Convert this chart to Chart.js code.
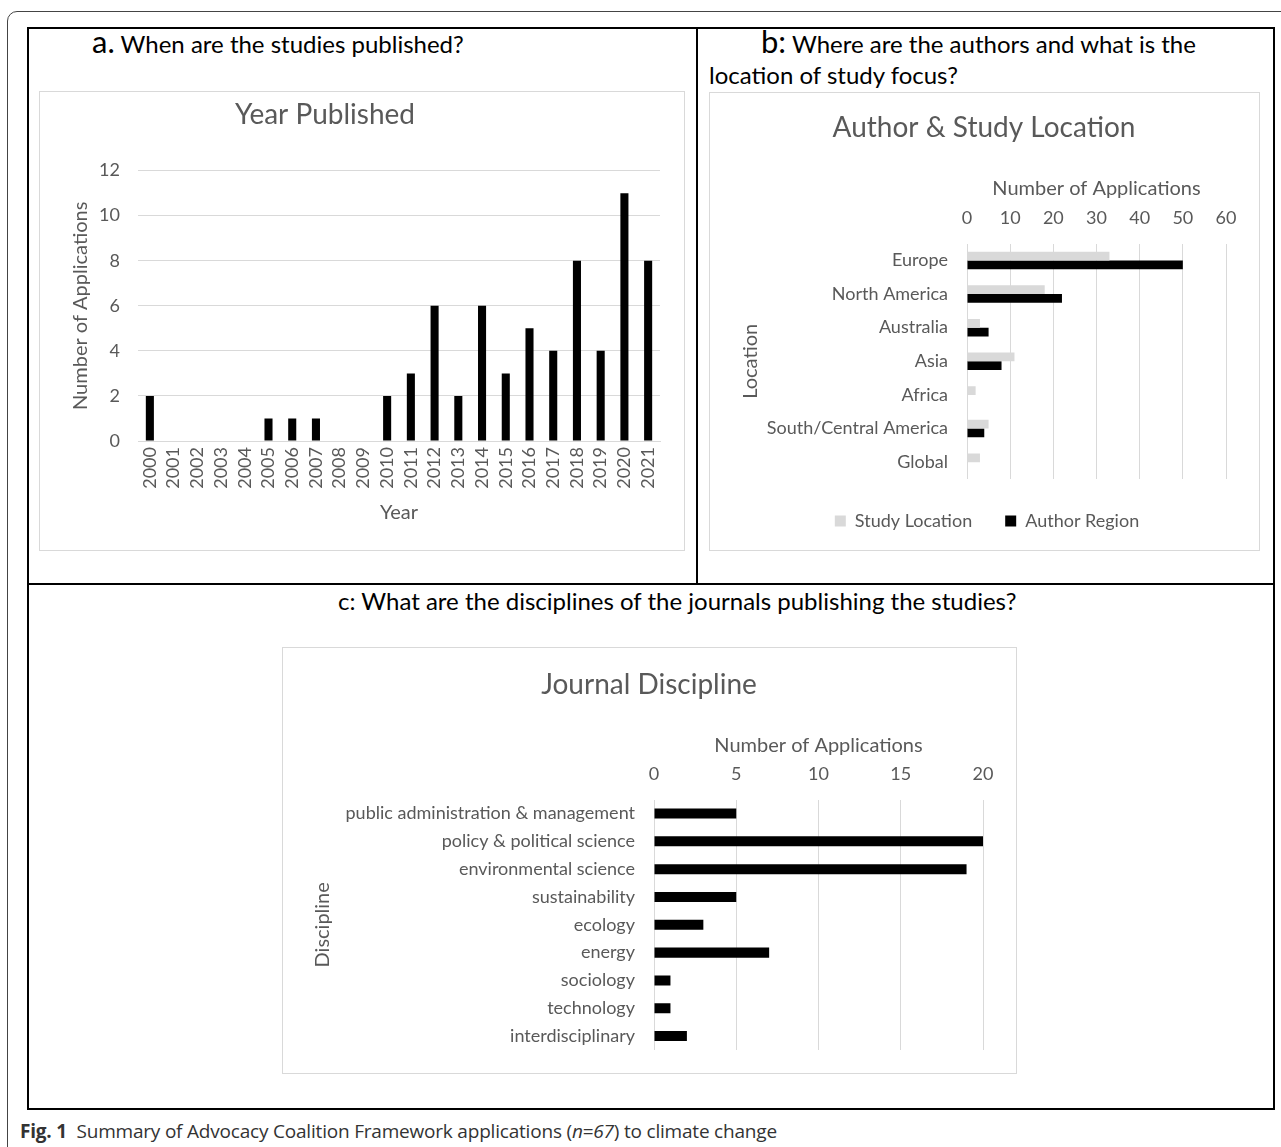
<!DOCTYPE html>
<html>
<head>
<meta charset="utf-8">
<script src="https://cdn.jsdelivr.net/npm/chart.js@4.4.0/dist/chart.umd.min.js"></script>
<style>
  body { margin:0; background:#fff; width:1281px; height:1147px; overflow:hidden; position:relative; font-family:Lato, "Open Sans", sans-serif; }
  .outer { position:absolute; left:7px; top:11px; width:1300px; height:1200px; border:1px solid #444; border-radius:10px; }
  .frame { position:absolute; left:27px; top:27px; width:1244px; height:1079px; border:2px solid #000; }
  .vdiv { position:absolute; left:696px; top:27px; width:2px; height:557px; background:#000; }
  .hdiv { position:absolute; left:27px; top:583px; width:1248px; height:2px; background:#000; }
  .head { position:absolute; font-size:24px; line-height:30px; color:#000; white-space:nowrap; }
  .head .big { font-size:31px; }
  .box { position:absolute; border:1px solid #d9d9d9; background:#fff; }
  .caption { position:absolute; left:20px; top:1118px; font-family:"Liberation Sans Narrow", "Open Sans", sans-serif; font-size:19px; color:#333; white-space:nowrap; letter-spacing:-0.2px; }
</style>
</head>
<body>
<div class="outer"></div>
<div class="frame"></div>
<div class="vdiv"></div>
<div class="hdiv"></div>

<div class="head" style="left:92px; top:26px;"><span class="big">a.</span> When are the studies published?</div>
<div class="head" style="left:761px; top:26px;"><span class="big">b:</span> Where are the authors and what is the</div>
<div class="head" style="left:709px; top:60px;">location of study focus?</div>
<div class="head" style="left:338px; top:586px;">c: What are the disciplines of the journals publishing the studies?</div>

<div class="box" style="left:39px; top:91px; width:644px; height:458px;"><canvas id="year"></canvas></div>
<div class="box" style="left:709px; top:92px; width:549px; height:457px;"><canvas id="loc"></canvas></div>
<div class="box" style="left:282px; top:647px; width:733px; height:425px;"><canvas id="disc"></canvas></div>

<div class="caption"><b>Fig. 1</b>&nbsp; Summary of Advocacy Coalition Framework applications (<i>n</i>=<i>67</i>) to climate change</div>

<script>
// panel a
const years = ['2000','2001','2002','2003','2004','2005','2006','2007','2008','2009','2010',
  '2011','2012','2013','2014','2015','2016','2017','2018','2019','2020','2021'];
const yearCounts = [2,0,0,0,0,1,1,1,0,0,2,3,6,2,6,3,5,4,8,4,11,8];

// panel b
const locations = ['Europe','North America','Australia','Asia','Africa','South/Central America','Global'];
const studyLocation = [33,18,3,11,2,5,3];
const authorRegion = [50,22,5,8,0,4,0];

// panel c
const disciplines = ['public administration & management','policy & political science','environmental science',
  'sustainability','ecology','energy','sociology','technology','interdisciplinary'];
const disciplineCounts = [5,20,19,5,3,7,1,1,2];

const FONT = 'Lato, "Open Sans", sans-serif';
const GREY = '#595959';
const GRID = '#d9d9d9';
Chart.defaults.font.family = FONT;
Chart.defaults.color = GREY;
Chart.defaults.animation = false;
Chart.defaults.responsive = true;
Chart.defaults.maintainAspectRatio = false;

const fixW = w => s => { s.width = w; s.paddingTop = 0; s.paddingBottom = 0; };
const fixH = h => s => { s.height = h; };

// nudge title / legend sideways, the excel layout is not centred exactly
const nudge = (titleDx, legendDx) => ({
  id:'nudge',
  afterLayout(chart){
    if (chart.titleBlock) { chart.titleBlock.left += titleDx; chart.titleBlock.right += titleDx; }
    if (legendDx && chart.legend) {
      chart.legend.left += legendDx; chart.legend.right += legendDx;
      chart.legend.legendHitBoxes.forEach(h => { h.left += legendDx; });
    }
  }
});

new Chart(document.getElementById('year'), {
  type:'bar',
  data:{ labels:years, datasets:[{ label:'Year', data:yearCounts, backgroundColor:'#000',
    barPercentage:0.34, categoryPercentage:1 }] },
  plugins:[nudge(-25, 0)],
  options:{
    layout:{ padding:{ left:0, right:24, top:0, bottom:13 } },
    plugins:{
      legend:{ display:false }, tooltip:{ enabled:false },
      title:{ display:true, text:'Year Published', color:GREY, font:{ size:28, weight:'normal' }, padding:{ top:6, bottom:39 } }
    },
    scales:{
      x:{
        grid:{ display:false, drawTicks:false },
        border:{ color:GRID },
        ticks:{ minRotation:90, maxRotation:90, autoSkip:false, padding:6, font:{ size:18 } },
        title:{ display:true, text:'Year', color:GREY, font:{ size:20 }, padding:{ top:4, bottom:12 } },
        afterFit: fixH(96)
      },
      y:{
        min:0, max:12,
        grid:{ color:GRID, drawTicks:false },
        border:{ display:false },
        ticks:{ stepSize:2, padding:18, font:{ size:18 } },
        title:{ display:true, text:'Number of Applications', color:GREY, font:{ size:20 }, padding:{ top:29, bottom:4 } },
        afterFit: fixW(98)
      }
    }
  }
});

new Chart(document.getElementById('loc'), {
  type:'bar',
  data:{ labels:locations, datasets:[
    { label:'Study Location', data:studyLocation, backgroundColor:GRID, barPercentage:1, categoryPercentage:0.52 },
    { label:'Author Region', data:authorRegion, backgroundColor:'#000', barPercentage:1, categoryPercentage:0.52 }
  ] },
  plugins:[nudge(16, 19)],
  options:{
    indexAxis:'y',
    layout:{ padding:{ left:0, right:33, top:0, bottom:10 } },
    plugins:{
      tooltip:{ enabled:false },
      title:{ display:true, text:'Author & Study Location', color:GREY, font:{ size:28, weight:'normal' }, padding:{ top:18, bottom:10 } },
      legend:{ position:'bottom', labels:{ boxWidth:11, boxHeight:11, padding:33, color:GREY, font:{ size:18 } } }
    },
    scales:{
      x:{
        position:'top', min:0, max:60,
        grid:{ color:GRID, drawTicks:false },
        border:{ display:false },
        ticks:{ stepSize:10, padding:15, font:{ size:18 } },
        title:{ display:true, text:'Number of Applications', color:GREY, font:{ size:20 }, padding:{ top:22, bottom:4 } },
        afterFit: fixH(89)
      },
      y:{
        grid:{ display:false, drawTicks:false },
        border:{ display:false },
        ticks:{ padding:19, font:{ size:18 } },
        title:{ display:true, text:'Location', color:GREY, font:{ size:20 }, padding:{ top:29, bottom:4 } },
        afterFit: fixW(257)
      }
    }
  }
});

new Chart(document.getElementById('disc'), {
  type:'bar',
  data:{ labels:disciplines, datasets:[{ label:'Discipline', data:disciplineCounts, backgroundColor:'#000',
    barPercentage:0.36, categoryPercentage:1 }] },
  plugins:[nudge(16, 0)],
  options:{
    indexAxis:'y',
    layout:{ padding:{ left:0, right:33, top:0, bottom:23 } },
    plugins:{
      legend:{ display:false }, tooltip:{ enabled:false },
      title:{ display:true, text:'Journal Discipline', color:GREY, font:{ size:28, weight:'normal' }, padding:{ top:20, bottom:10 } }
    },
    scales:{
      x:{
        position:'top', min:0, max:20,
        grid:{ color:GRID, drawTicks:false },
        border:{ display:false },
        ticks:{ stepSize:5, padding:15, font:{ size:18 } },
        title:{ display:true, text:'Number of Applications', color:GREY, font:{ size:20 }, padding:{ top:22, bottom:4 } },
        afterFit: fixH(88)
      },
      y:{
        grid:{ display:false, drawTicks:false },
        border:{ display:false },
        ticks:{ padding:19, font:{ size:18 } },
        title:{ display:true, text:'Discipline', color:GREY, font:{ size:20 }, padding:{ top:28, bottom:4 } },
        afterFit: fixW(371)
      }
    }
  }
});
</script>
</body>
</html>
